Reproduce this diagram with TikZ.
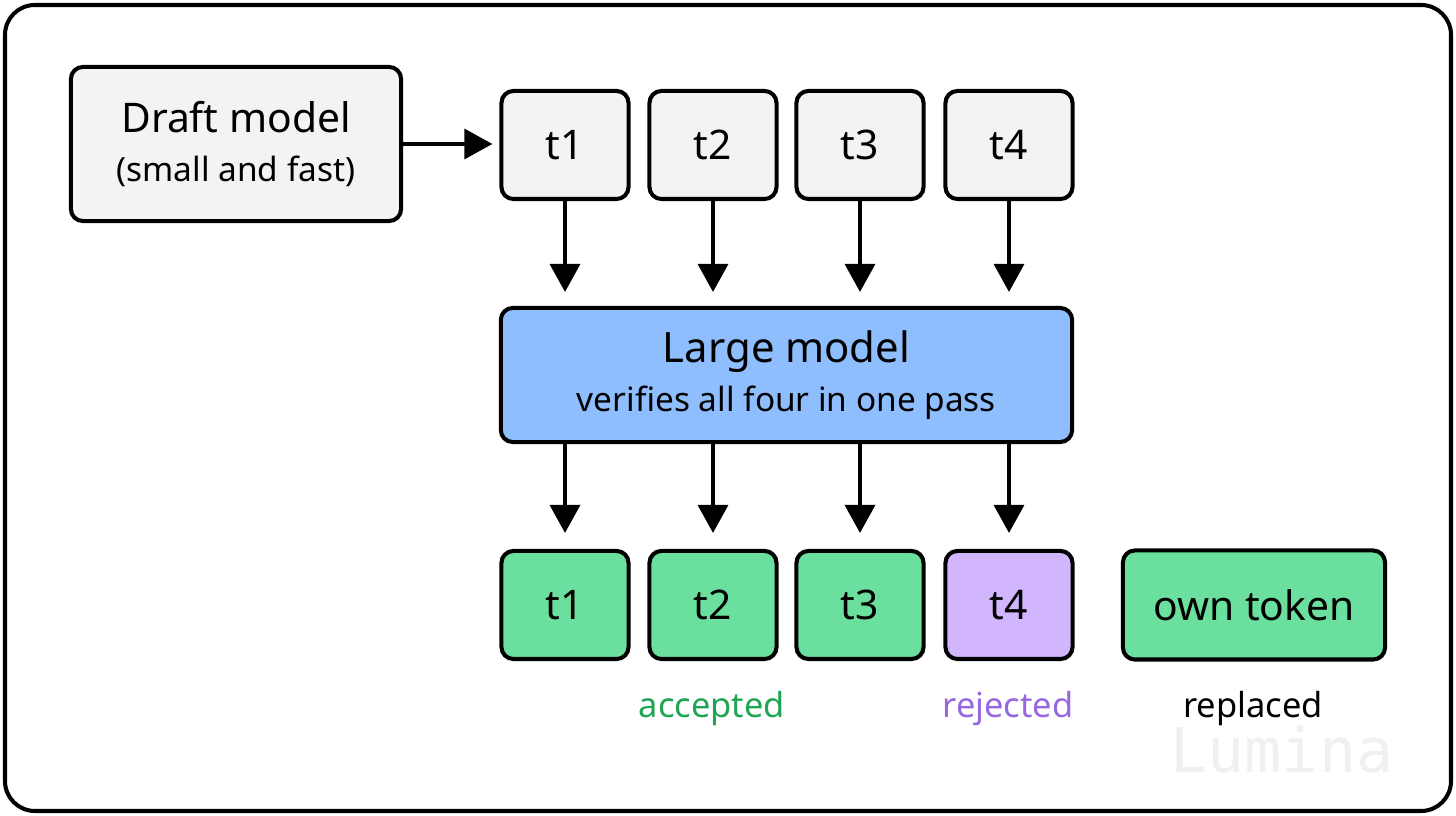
\documentclass[tikz,border=0pt]{standalone}
\usepackage{fontspec}
\setmainfont{Noto Sans}
\newfontfamily\markfont{DejaVu Sans Mono}
\usetikzlibrary{arrows.meta}
\definecolor{draftgray}{HTML}{F3F3F3}
\definecolor{largeblue}{HTML}{8EBEFD}
\definecolor{okgreen}{HTML}{6BE09E}
\definecolor{badpurple}{HTML}{D1B5FD}
\definecolor{oktext}{HTML}{1DA554}
\definecolor{badtext}{HTML}{9667E0}
\tikzset{
  box/.style={draw=black, line width=1.15pt, rounded corners=3.4pt, align=center, inner sep=0pt},
  tok/.style={box, minimum width=1.27cm, minimum height=1.08cm, font=\fontsize{11.6}{14}\selectfont},
  tag/.style={font=\fontsize{9.8}{12}\selectfont},
  flow/.style={-{Triangle[length=8pt,width=8.5pt]}, line width=1.15pt},
}
\begin{document}
\begin{tikzpicture}[x=0.01cm,y=-0.01cm]
\useasboundingbox (0,0) rectangle (1456,816);
\draw[line width=1.15pt, rounded corners=8.5pt] (5,5) rectangle (1451,811);
% draft side
\node[box, fill=draftgray, minimum width=3.3cm, minimum height=1.54cm] (draft) at (236,144)
  {{\fontsize{11.6}{13}\selectfont Draft model}\\[2pt]{\fontsize{9.5}{11}\selectfont (small and fast)}};
\node[tok, fill=draftgray] (d1) at (565,145) {t1};
\node[tok, fill=draftgray] (d2) at (713,145) {t2};
\node[tok, fill=draftgray] (d3) at (860,145) {t3};
\node[tok, fill=draftgray] (d4) at (1009,145) {t4};
% verifier
\node[box, fill=largeblue, minimum width=5.71cm, minimum height=1.34cm] (large) at (786.5,375)
  {{\fontsize{11.9}{13}\selectfont Large model}\\[2pt]{\fontsize{9.5}{11}\selectfont verifies all four in one pass}};
% results
\node[tok, fill=okgreen] (v1) at (565,605) {t1};
\node[tok, fill=okgreen] (v2) at (713,605) {t2};
\node[tok, fill=okgreen] (v3) at (860,605) {t3};
\node[tok, fill=badpurple] (v4) at (1009,605) {t4};
\node[tok, fill=okgreen, minimum width=2.62cm, minimum height=1.09cm] (own) at (1254,605) {own token};
\node[tag, text=oktext] (acc) at (712,709) {accepted};
\node[tag, text=badtext] (rej) at (1008,709) {rejected};
\node[tag] (rep) at (1253,709) {replaced};
\node[text=black!6, font=\markfont\fontsize{17.5}{21}\selectfont] (mark) at (1282,750) {Lumina};
% arrows
\draw[flow] (draft.east) -- ([xshift=-2pt]draft.east -| d1.west);
\foreach \i in {1,...,4} {
  \draw[flow] (d\i.south) -- (d\i.south |- 0,292);
  \draw[flow] (large.south -| v\i) -- (v\i.north |- 0,533);
}
\end{tikzpicture}
\end{document}
